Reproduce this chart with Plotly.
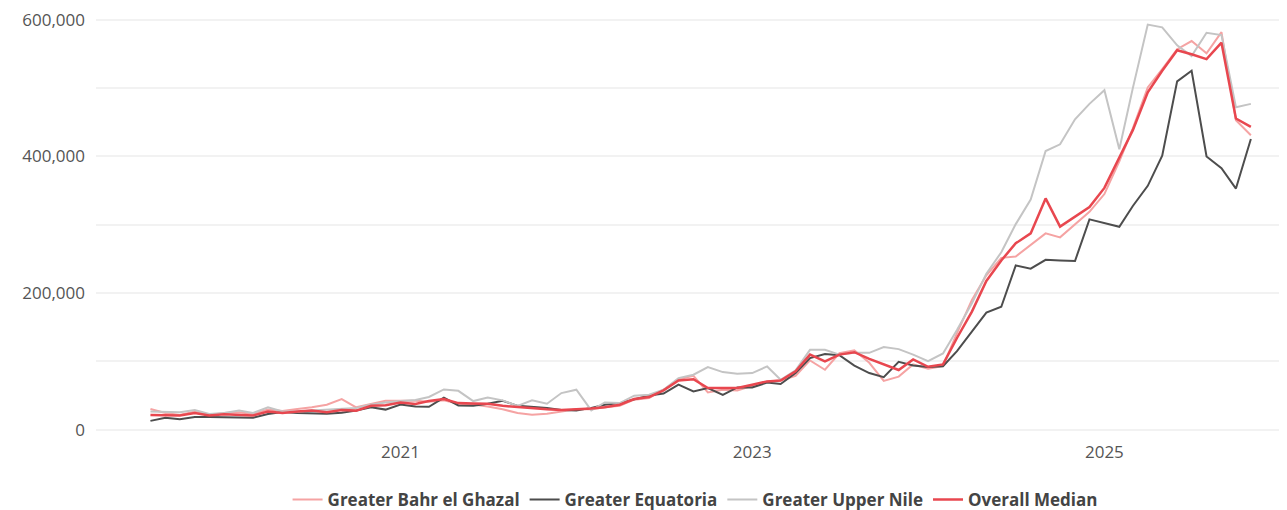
import pandas as pd
import plotly.graph_objects as go

# Monthly series, Aug 2019 - Nov 2025
months = pd.date_range("2019-08-01", periods=76, freq="MS")

bahr_el_ghazal = [
    30400, 24600, 21700, 26600, 21700, 24600, 25600, 23200, 29500, 27500,
    30400, 32800, 36700, 45000, 32800, 37700, 42500, 42500, 42500, 41000,
    43000, 38000, 37000, 34000, 30000, 24400, 22000, 23400, 26800, 30000,
    30000, 33000, 35000, 44000, 46400, 58600, 74000, 79000, 54700, 58600,
    57600, 64400, 70800, 72000, 79000, 101500, 87800, 112000, 116400, 98000,
    71500, 77800, 95600, 89400, 93200, 141500, 189800, 226000, 251600, 253600,
    271000, 287400, 281600, 300000, 319000, 345000, 392700, 441000, 501000, 528000,
    557000, 569000, 551000, 582000, 453000, 431000,
]

equatoria = [
    13000, 17500, 15500, 18500, 18500, 18000, 18500, 17500, 23000, 26000,
    24500, 23500, 23500, 25000, 28000, 33000, 29500, 37000, 34000, 33500,
    47000, 35500, 35000, 38000, 42500, 35000, 34000, 32000, 29000, 28000,
    32000, 36600, 39000, 44000, 50000, 53000, 66000, 56000, 61000, 51000,
    62000, 62000, 69000, 67000, 83000, 105000, 111000, 109000, 94000, 83000,
    77000, 99500, 94000, 92000, 93000, 115000, 144000, 171500, 180000, 240500,
    235700, 248700, 247800, 247000, 308000, 303000, 297000, 327500, 357000, 401000,
    510000, 525500, 400000, 383000, 353000, 425500,
]

upper_nile = [
    26600, 25600, 25600, 29000, 23200, 24600, 28000, 24600, 32800, 26600,
    26600, 28000, 29000, 30400, 32000, 37000, 40000, 42000, 43500, 48000,
    59000, 57000, 42000, 47000, 43000, 35000, 43000, 38000, 53700, 58600,
    28300, 40000, 39000, 49800, 51200, 58600, 75600, 80500, 91700, 84400,
    82000, 83000, 92700, 73200, 86900, 117000, 117000, 110000, 112600, 112600,
    121000, 118000, 110000, 100400, 111600, 146000, 185000, 228500, 259800, 301000,
    337000, 408000, 417800, 454500, 477000, 497000, 410600, 500000, 593000, 589000,
    562700, 547000, 581000, 577700, 472000, 477000,
]

overall_median = [
    21700, 21500, 20800, 24600, 20800, 22700, 22200, 20800, 26600, 24600,
    26600, 28000, 25600, 29000, 28000, 35000, 36000, 40000, 37700, 42000,
    45000, 39000, 38600, 38000, 35000, 33000, 31700, 30000, 29000, 30000,
    31000, 33000, 36600, 45000, 47800, 57600, 72000, 74000, 61000, 61000,
    61000, 66000, 70800, 72000, 85400, 110000, 100000, 110000, 113500, 103800,
    95600, 87400, 102900, 92200, 95600, 134300, 172900, 217800, 247800, 272900,
    287400, 338600, 297300, 311500, 326000, 354000, 397500, 438500, 494000, 525500,
    555500, 549700, 542400, 566600, 455500, 443400,
]

series = [
    ("Greater Bahr el Ghazal", bahr_el_ghazal, "#f5a3a3", 2),
    ("Greater Equatoria", equatoria, "#4d4d4d", 2),
    ("Greater Upper Nile", upper_nile, "#c4c4c4", 2),
    ("Overall Median", overall_median, "#e8474f", 2.5),
]

fig = go.Figure()
for name, vals, color, w in series:
    fig.add_trace(go.Scatter(
        x=months, y=vals, mode="lines", name=name,
        line=dict(color=color, width=w),
    ))

fig.update_layout(
    width=1279, height=510,
    margin=dict(l=88, r=0, t=2, b=77),
    paper_bgcolor="white", plot_bgcolor="white",
    font=dict(family="Open Sans, sans-serif", color="#555555"),
    showlegend=True,
    legend=dict(
        orientation="h", x=0.503, xanchor="center", y=-0.1415, yanchor="middle",
        font=dict(size=17, color="#444444", weight="bold"),
        itemwidth=30,
    ),
)

fig.update_xaxes(
    type="date",
    range=["2019-04-10", "2026-01-15"],
    tick0="2021-01-01", dtick="M24", tickformat="%Y",
    showgrid=False, zeroline=False, showline=False, ticks="",
    tickfont=dict(size=17, color="#555555"),
)

fig.update_yaxes(
    range=[-15000, 610000],
    tick0=0, dtick=200000, tickformat=",",
    showgrid=True, gridcolor="#f2f2f2", gridwidth=2,
    minor=dict(dtick=100000, showgrid=True, gridcolor="#f2f2f2", gridwidth=2),
    zeroline=False, showline=False, ticks="",
    ticklabelstandoff=10,
    ticklabeloverflow="allow",
    tickfont=dict(size=17, color="#555555"),
)

fig.write_html("out.html")
